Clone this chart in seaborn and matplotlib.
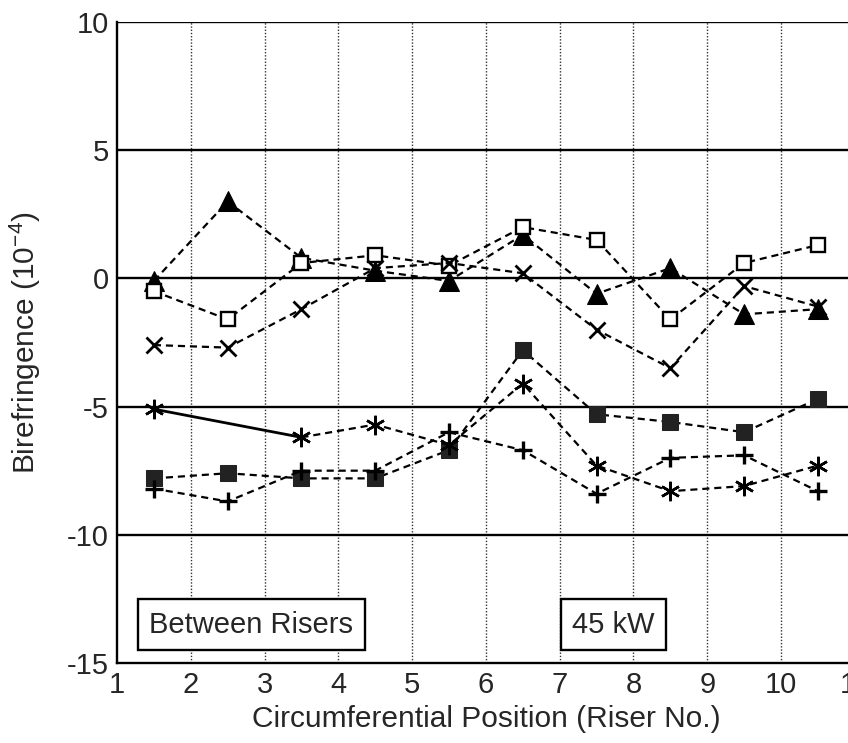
import numpy as np
import pandas as pd
import matplotlib
matplotlib.use("Agg")
import matplotlib.pyplot as plt
import seaborn as sns

# Riser positions (midpoints between risers)
positions = [1.5, 2.5, 3.5, 4.5, 5.5, 6.5, 7.5, 8.5, 9.5, 10.5]

# Birefringence (1e-4) for each measurement set
tri_filled = [-0.1, 3.0, 0.8, 0.3, -0.1, 1.7, -0.6, 0.4, -1.4, -1.2]
sq_open = [-0.5, -1.6, 0.6, 0.9, 0.5, 2.0, 1.5, -1.6, 0.6, 1.3]
x_mark = [-2.6, -2.7, -1.2, 0.4, 0.6, 0.2, -2.0, -3.5, -0.3, -1.1]
sq_filled = [-7.8, -7.6, -7.8, -7.8, -6.7, -2.8, -5.3, -5.6, -6.0, -4.7]
star = [-5.1, np.nan, -6.2, -5.7, -6.5, -4.1, -7.3, -8.3, -8.1, -7.3]
plus = [-8.2, -8.7, -7.5, -7.5, -6.0, -6.7, -8.4, -7.0, -6.9, -8.3]

y_ticks = [-15, -10, -5, 0, 5, 10]
x_ticks = [1, 2, 3, 4, 5, 6, 7, 8, 9, 10, 11]

sns.set_style("white")
plt.rcParams["font.family"] = ["Liberation Sans", "DejaVu Sans"]
plt.rcParams["mathtext.fontset"] = "custom"
plt.rcParams["mathtext.rm"] = "Liberation Sans"
plt.rcParams["axes.unicode_minus"] = False

fig = plt.figure(figsize=(8.48, 7.43), dpi=100)
ax = fig.add_axes([0.138, 0.1077, 0.870, 0.8627])

# grid: dotted verticals, solid horizontals
for xv in x_ticks[1:-1]:
    ax.axvline(xv, color="#333333", lw=1.0, ls=(0, (1, 1.3)), zorder=1)
for yv in y_ticks[1:]:
    ax.axhline(yv, color="black", lw=1.7, zorder=1)

series = [
    (tri_filled, dict(marker="^", ms=14, mfc="black", mec="black")),
    (sq_open, dict(marker="s", ms=10, mfc="white", mec="black", mew=1.7)),
    (x_mark, dict(marker="x", ms=12, mec="black", mew=2.0)),
    (sq_filled, dict(marker="s", ms=11, mfc="#222222", mec="#222222")),
    (star, dict(marker=(6, 2, 0), ms=14, mec="black", mew=1.8)),
    (plus, dict(marker="+", ms=13, mec="black", mew=2.4)),
]

dash = (0, (3.2, 2.2))
for vals, mk in series:
    df = pd.DataFrame({"pos": positions, "val": vals}).dropna()
    if np.isnan(vals).any():
        # missing reading: the gap is bridged with a solid segment
        i = int(np.where(np.isnan(vals))[0][0])
        ax.plot([positions[i - 1], positions[i + 1]], [vals[i - 1], vals[i + 1]],
                color="black", lw=2.0, zorder=2)
        df = df[df["pos"] > positions[i]]
        ax.plot([positions[i - 1]], [vals[i - 1]], ls="none", color="black", zorder=3, **mk)
    sns.lineplot(data=df, x="pos", y="val", ax=ax, color="black", lw=1.6,
                 linestyle=dash, estimator=None, sort=False, zorder=2, **mk)

ax.set_xlim(1, 11)
ax.set_ylim(-15, 10)
ax.set_xticks(x_ticks)
ax.set_yticks(y_ticks)
ax.tick_params(axis="both", direction="out", length=5, width=1.4, color="black",
               labelsize=21, pad=1)
for side in ["left", "bottom"]:
    ax.spines[side].set_color("black")
    ax.spines[side].set_linewidth(1.7)
ax.spines["top"].set_visible(False)
ax.spines["right"].set_visible(False)

ax.set_xlabel("Circumferential Position (Riser No.)", fontsize=21.5, labelpad=4)
ax.set_ylabel(r"Birefringence (10$^{\mathregular{-4}}$)", fontsize=21.5, labelpad=17)

box = dict(boxstyle="square,pad=0.4", fc="white", ec="black", lw=1.7)
ax.text(1.44, -13.5, "Between Risers", fontsize=21, ha="left", va="center", bbox=box, zorder=5)
ax.text(7.17, -13.5, "45 kW", fontsize=21, ha="left", va="center", bbox=box, zorder=5)

fig.savefig("out.png", dpi=100)
